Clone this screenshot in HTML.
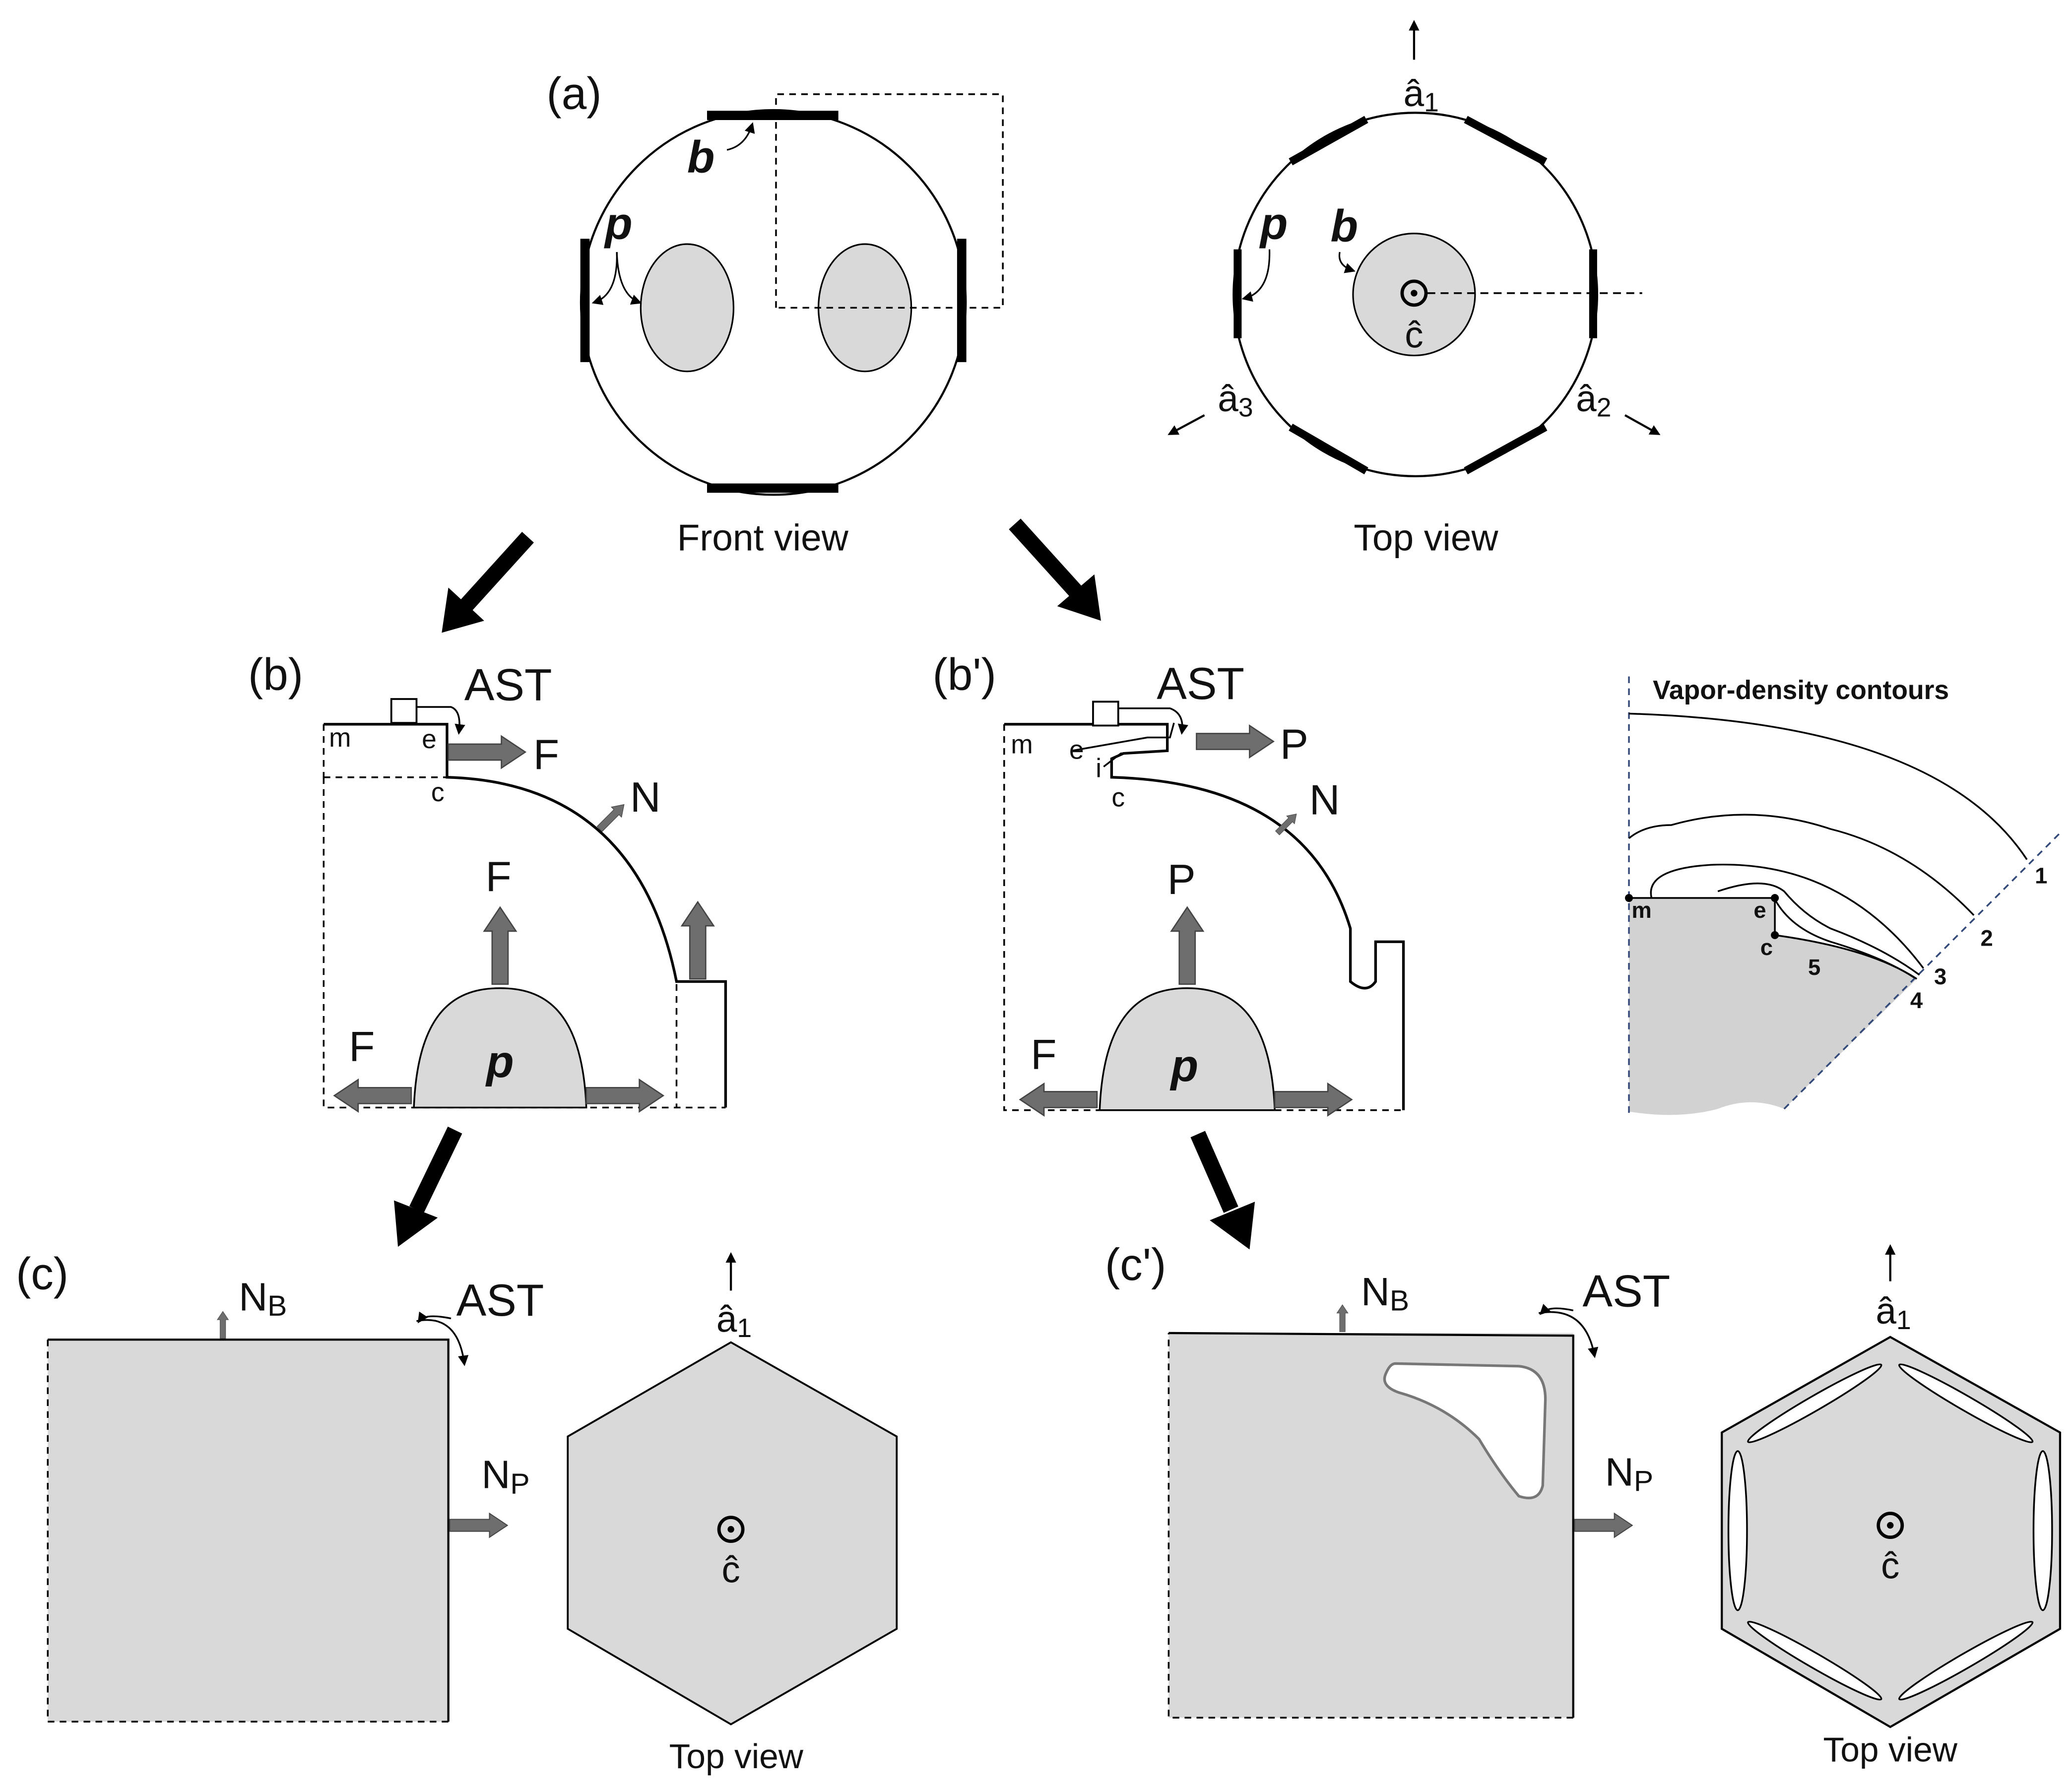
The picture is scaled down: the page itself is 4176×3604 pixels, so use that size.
<!DOCTYPE html>
<html><head><meta charset="utf-8"><style>
html,body{margin:0;padding:0;background:#fff}
svg{display:block}
text{font-family:"Liberation Sans","DejaVu Sans",sans-serif;fill:#111}
</style></head><body>
<svg width="4176" height="3604" viewBox="0 0 1562 1348" xmlns="http://www.w3.org/2000/svg">
<defs>
<marker id="ah" markerWidth="8" markerHeight="8" refX="6" refY="4" orient="auto" markerUnits="userSpaceOnUse"><path d="M0,0 L8,4 L0,8 z" fill="#000"/></marker>
<g id="garrowR"><path d="M0,-6 L40,-6 L40,-12 L58,0 L40,12 L40,6 L0,6 z" fill="#6e6e6e" stroke="#444" stroke-width="1"/></g>
</defs>
<rect width="1562" height="1348" fill="#fff"/>

<!-- (a) Front view -->
<text x="412" y="82" font-size="34">(a)</text>
<circle cx="583" cy="228" r="145" fill="none" stroke="#000" stroke-width="1.6"/>
<line x1="533" y1="87" x2="632" y2="87" stroke="#000" stroke-width="7"/>
<line x1="533" y1="368" x2="632" y2="368" stroke="#000" stroke-width="7"/>
<line x1="441" y1="180" x2="441" y2="273" stroke="#000" stroke-width="7"/>
<line x1="725" y1="180" x2="725" y2="273" stroke="#000" stroke-width="7"/>
<ellipse cx="518" cy="232" rx="35" ry="48" fill="#d9d9d9" stroke="#000" stroke-width="1.2"/>
<ellipse cx="652" cy="232" rx="35" ry="48" fill="#d9d9d9" stroke="#000" stroke-width="1.2"/>
<path d="M585,232 L585,71 L756,71 L756,232 L585,232" fill="none" stroke="#000" stroke-width="1.3" stroke-dasharray="5,4"/>
<text x="518" y="130" font-size="34" font-weight="bold" font-style="italic">b</text>
<path d="M548,113 Q562,110 567,94" fill="none" stroke="#000" stroke-width="1.2" marker-end="url(#ah)"/>
<text x="456" y="180" font-size="34" font-weight="bold" font-style="italic">p</text>
<path d="M465,190 Q466,222 448,228" fill="none" stroke="#000" stroke-width="1.2" marker-end="url(#ah)"/>
<path d="M465,190 Q466,222 482,228" fill="none" stroke="#000" stroke-width="1.2" marker-end="url(#ah)"/>
<text x="575" y="415" font-size="28" text-anchor="middle">Front view</text>

<!-- (a) Top view -->
<circle cx="1067" cy="222" r="137" fill="none" stroke="#000" stroke-width="1.6"/>
<g stroke="#000" stroke-width="6">
<line x1="973" y1="122" x2="1030" y2="90"/>
<line x1="1105" y1="90" x2="1165" y2="122"/>
<line x1="933" y1="188" x2="933" y2="255"/>
<line x1="1201" y1="188" x2="1201" y2="255"/>
<line x1="973" y1="322" x2="1030" y2="355"/>
<line x1="1105" y1="355" x2="1165" y2="322"/>
</g>
<circle cx="1066" cy="222" r="46" fill="#d9d9d9" stroke="#000" stroke-width="1.2"/>
<line x1="1076" y1="221" x2="1238" y2="221" stroke="#000" stroke-width="1.3" stroke-dasharray="6,4"/>
<circle cx="1066" cy="221" r="9" fill="none" stroke="#000" stroke-width="2.5"/>
<circle cx="1066" cy="221" r="2.5" fill="#000"/>
<text x="1066" y="262" font-size="28" text-anchor="middle">ĉ</text>
<line x1="1066" y1="45" x2="1066" y2="17" stroke="#000" stroke-width="1.6" marker-end="url(#ah)"/>
<text x="1058" y="80" font-size="28">â<tspan font-size="20" dy="4">1</tspan></text>
<line x1="908" y1="313" x2="882" y2="327" stroke="#000" stroke-width="1.6" marker-end="url(#ah)"/>
<text x="918" y="310" font-size="28">â<tspan font-size="20" dy="4">3</tspan></text>
<line x1="1225" y1="313" x2="1250" y2="327" stroke="#000" stroke-width="1.6" marker-end="url(#ah)"/>
<text x="1188" y="310" font-size="28">â<tspan font-size="20" dy="4">2</tspan></text>
<text x="950" y="180" font-size="34" font-weight="bold" font-style="italic">p</text>
<path d="M957,188 Q958,220 938,225" fill="none" stroke="#000" stroke-width="1.2" marker-end="url(#ah)"/>
<text x="1003" y="182" font-size="34" font-weight="bold" font-style="italic">b</text>
<path d="M1010,190 Q1008,200 1020,204" fill="none" stroke="#000" stroke-width="1.2" marker-end="url(#ah)"/>
<text x="1075" y="415" font-size="28" text-anchor="middle">Top view</text>

<!-- big arrows -->
<g stroke="#000" stroke-width="12" fill="none">
<line x1="398" y1="405" x2="350" y2="458"/>
<line x1="765" y1="395" x2="812" y2="447"/>
<line x1="343" y1="852" x2="314" y2="912"/>
<line x1="903" y1="855" x2="928" y2="912"/>
</g>
<polygon points="333,477 338,443 365,468" fill="#000"/>
<polygon points="830,468 797,457 825,433" fill="#000"/>
<polygon points="300,940 297,905 330,918" fill="#000"/>
<polygon points="942,942 912,920 946,906" fill="#000"/>

<!-- (b) -->
<text x="187" y="520" font-size="34">(b)</text>
<text x="350" y="528" font-size="34">AST</text>
<path d="M244,586 L244,835 L547,835" fill="none" stroke="#000" stroke-width="1.3" stroke-dasharray="5,4"/>
<line x1="244" y1="586" x2="337" y2="586" stroke="#000" stroke-width="1.3" stroke-dasharray="5,4"/>
<line x1="244" y1="546" x2="244" y2="586" stroke="#000" stroke-width="1.3" stroke-dasharray="5,4"/>
<line x1="510" y1="742" x2="510" y2="835" stroke="#000" stroke-width="1.3" stroke-dasharray="5,4"/>
<path d="M244,546 L337,546 L337,586 Q480,590 510,740 L547,740 L547,835" fill="none" stroke="#000" stroke-width="2"/>
<rect x="295" y="527" width="19" height="18" fill="#fff" stroke="#000" stroke-width="1.4"/>
<path d="M314,533 L340,533 Q348,536 346,552" fill="none" stroke="#000" stroke-width="1.3" marker-end="url(#ah)"/>
<text x="248" y="563" font-size="20">m</text>
<text x="318" y="564" font-size="20">e</text>
<text x="325" y="604" font-size="20">c</text>
<use href="#garrowR" x="338" y="567"/>
<text x="402" y="580" font-size="32">F</text>
<use href="#garrowR" transform="translate(452,625) rotate(-45) scale(0.45)"/>
<text x="475" y="612" font-size="32">N</text>
<path d="M312,835 C315,760 345,745 377,745 C409,745 439,760 442,835 z" fill="#d9d9d9" stroke="#000" stroke-width="1.3"/>
<text x="377" y="812" font-size="34" font-weight="bold" font-style="italic" text-anchor="middle">p</text>
<use href="#garrowR" transform="translate(377,742) rotate(-90)"/>
<text x="366" y="672" font-size="32">F</text>
<use href="#garrowR" transform="translate(526,738) rotate(-90)"/>
<use href="#garrowR" transform="translate(310,826) rotate(180)"/>
<use href="#garrowR" x="442" y="826"/>
<text x="263" y="800" font-size="32">F</text>

<!-- (b') -->
<text x="703" y="520" font-size="34">(b')</text>
<text x="872" y="527" font-size="34">AST</text>
<path d="M757,546 L757,837 L1058,837" fill="none" stroke="#000" stroke-width="1.3" stroke-dasharray="5,4"/>
<path d="M757,546 L880,546 L880,566 L847,568 L838,572 L838,586 Q985,590 1018,700 L1018,740 Q1030,750 1037,740 L1037,710 L1058,710 L1058,837" fill="none" stroke="#000" stroke-width="2"/>
<path d="M808,566 L865,556 L882,556 L885,545" fill="none" stroke="#000" stroke-width="1.3"/>
<path d="M832,578 L845,568 L880,566" fill="none" stroke="#000" stroke-width="1.3"/>
<rect x="824" y="529" width="19" height="18" fill="#fff" stroke="#000" stroke-width="1.4"/>
<path d="M843,534 L882,534 Q893,538 891,552" fill="none" stroke="#000" stroke-width="1.3" marker-end="url(#ah)"/>
<text x="762" y="568" font-size="20">m</text>
<text x="806" y="572" font-size="20">e</text>
<text x="826" y="586" font-size="20">i</text>
<text x="838" y="608" font-size="20">c</text>
<use href="#garrowR" x="902" y="559"/>
<text x="965" y="572" font-size="32">P</text>
<use href="#garrowR" transform="translate(963,628) rotate(-45) scale(0.35)"/>
<text x="987" y="614" font-size="32">N</text>
<path d="M829,837 C832,762 862,745 895,745 C928,745 958,762 961,837 z" fill="#d9d9d9" stroke="#000" stroke-width="1.3"/>
<text x="893" y="815" font-size="34" font-weight="bold" font-style="italic" text-anchor="middle">p</text>
<use href="#garrowR" transform="translate(895,742) rotate(-90)"/>
<text x="880" y="674" font-size="32">P</text>
<use href="#garrowR" transform="translate(827,829) rotate(180)"/>
<use href="#garrowR" x="961" y="829"/>
<text x="777" y="806" font-size="32">F</text>

<!-- Vapor density -->
<text x="1246" y="527" font-size="20" font-weight="bold">Vapor-density contours</text>
<path d="M1228,677 L1338,677 L1338,705 Q1410,715 1445,738 L1345,836 Q1320,826 1295,836 Q1265,844 1228,838 z" fill="#d2d2d2"/>
<line x1="1228" y1="510" x2="1228" y2="842" stroke="#334a7a" stroke-width="1.3" stroke-dasharray="5,4"/>
<line x1="1345" y1="836" x2="1553" y2="628" stroke="#334a7a" stroke-width="1.3" stroke-dasharray="5,4"/>
<path d="M1228,677 L1338,677 L1338,705 Q1410,715 1445,738" fill="none" stroke="#000" stroke-width="1.3"/>
<path d="M1228,538 Q1460,545 1528,648" fill="none" stroke="#000" stroke-width="1.3"/>
<path d="M1228,632 Q1240,622 1260,622 Q1320,605 1380,625 Q1440,640 1488,690" fill="none" stroke="#000" stroke-width="1.3"/>
<path d="M1245,677 Q1240,655 1290,652 Q1340,650 1380,670 Q1420,690 1450,730" fill="none" stroke="#000" stroke-width="1.3"/>
<path d="M1295,672 Q1330,660 1345,672 Q1360,690 1380,700 Q1420,715 1447,735" fill="none" stroke="#000" stroke-width="1.3"/>
<path d="M1338,678 Q1350,700 1380,710 Q1420,722 1443,737" fill="none" stroke="#000" stroke-width="1.3"/>
<circle cx="1228" cy="677" r="3" fill="#000"/>
<circle cx="1338" cy="677" r="3" fill="#000"/>
<circle cx="1338" cy="705" r="3" fill="#000"/>
<g font-size="17" font-weight="bold">
<text x="1230" y="692">m</text>
<text x="1322" y="692">e</text>
<text x="1327" y="720">c</text>
<text x="1363" y="735">5</text>
<text x="1440" y="760">4</text>
<text x="1458" y="742">3</text>
<text x="1493" y="713">2</text>
<text x="1534" y="666">1</text>
</g>

<!-- (c) -->
<text x="12" y="972" font-size="34">(c)</text>
<rect x="36" y="1010" width="302" height="288" fill="#d9d9d9"/>
<path d="M36,1010 L338,1010 L338,1298" fill="none" stroke="#000" stroke-width="1.6"/>
<path d="M338,1298 L36,1298 L36,1010" fill="none" stroke="#000" stroke-width="1.3" stroke-dasharray="5,4"/>
<use href="#garrowR" transform="translate(168,1009) rotate(-90) scale(0.35)"/>
<text x="180" y="988" font-size="30">N<tspan font-size="22" dy="4">B</tspan></text>
<text x="344" y="992" font-size="34">AST</text>
<path d="M314,996 Q345,990 350,1028" fill="none" stroke="#000" stroke-width="1.3" marker-end="url(#ah)"/>
<path d="M340,994 Q320,990 316,996" fill="none" stroke="#000" stroke-width="1.3" marker-end="url(#ah)"/>
<use href="#garrowR" transform="translate(339,1150) scale(0.75)"/>
<text x="363" y="1122" font-size="30">N<tspan font-size="22" dy="4">P</tspan></text>
<polygon points="551,1012 676,1083 676,1228 551,1300 428,1228 428,1083" fill="#d9d9d9" stroke="#000" stroke-width="1.4"/>
<circle cx="551" cy="1153" r="9" fill="none" stroke="#000" stroke-width="2.5"/>
<circle cx="551" cy="1153" r="2.5" fill="#000"/>
<text x="551" y="1193" font-size="28" text-anchor="middle">ĉ</text>
<line x1="551" y1="973" x2="551" y2="946" stroke="#000" stroke-width="1.6" marker-end="url(#ah)"/>
<text x="540" y="1004" font-size="28">â<tspan font-size="20" dy="4">1</tspan></text>
<text x="555" y="1333" font-size="26" text-anchor="middle">Top view</text>

<!-- (c') -->
<text x="833" y="965" font-size="34">(c')</text>
<rect x="881" y="1005" width="305" height="290" fill="#d9d9d9"/>
<path d="M881,1005 L1186,1007 L1186,1295" fill="none" stroke="#000" stroke-width="1.6"/>
<path d="M1186,1295 L881,1295 L881,1005" fill="none" stroke="#000" stroke-width="1.3" stroke-dasharray="5,4"/>
<path d="M1052,1028 L1145,1030 Q1165,1032 1165,1055 L1163,1120 Q1160,1133 1145,1128 Q1130,1110 1115,1085 Q1090,1060 1055,1050 Q1040,1045 1045,1035 Q1048,1028 1052,1028 z" fill="#fff" stroke="#777" stroke-width="2"/>
<use href="#garrowR" transform="translate(1012,1004) rotate(-90) scale(0.35)"/>
<text x="1026" y="984" font-size="30">N<tspan font-size="22" dy="4">B</tspan></text>
<text x="1193" y="985" font-size="34">AST</text>
<path d="M1160,990 Q1195,984 1202,1022" fill="none" stroke="#000" stroke-width="1.3" marker-end="url(#ah)"/>
<path d="M1186,988 Q1168,984 1162,990" fill="none" stroke="#000" stroke-width="1.3" marker-end="url(#ah)"/>
<use href="#garrowR" transform="translate(1187,1150) scale(0.75)"/>
<text x="1210" y="1120" font-size="30">N<tspan font-size="22" dy="4">P</tspan></text>
<polygon points="1425,1008 1553,1080 1553,1228 1425,1302 1298,1228 1298,1080" fill="#d9d9d9" stroke="#000" stroke-width="1.6"/>
<g fill="#fff" stroke="#000" stroke-width="1.3">
<ellipse cx="1368" cy="1058" rx="58" ry="5.5" transform="rotate(-30 1368 1058)"/>
<ellipse cx="1482" cy="1058" rx="58" ry="5.5" transform="rotate(30 1482 1058)"/>
<ellipse cx="1310" cy="1154" rx="7" ry="60"/>
<ellipse cx="1540" cy="1154" rx="7" ry="60"/>
<ellipse cx="1368" cy="1252" rx="58" ry="5.5" transform="rotate(30 1368 1252)"/>
<ellipse cx="1482" cy="1252" rx="58" ry="5.5" transform="rotate(-30 1482 1252)"/>
</g>
<circle cx="1425" cy="1150" r="9" fill="none" stroke="#000" stroke-width="2.5"/>
<circle cx="1425" cy="1150" r="2.5" fill="#000"/>
<text x="1425" y="1190" font-size="28" text-anchor="middle">ĉ</text>
<line x1="1425" y1="966" x2="1425" y2="940" stroke="#000" stroke-width="1.6" marker-end="url(#ah)"/>
<text x="1414" y="998" font-size="28">â<tspan font-size="20" dy="4">1</tspan></text>
<text x="1425" y="1328" font-size="26" text-anchor="middle">Top view</text>
</svg>
</body></html>
